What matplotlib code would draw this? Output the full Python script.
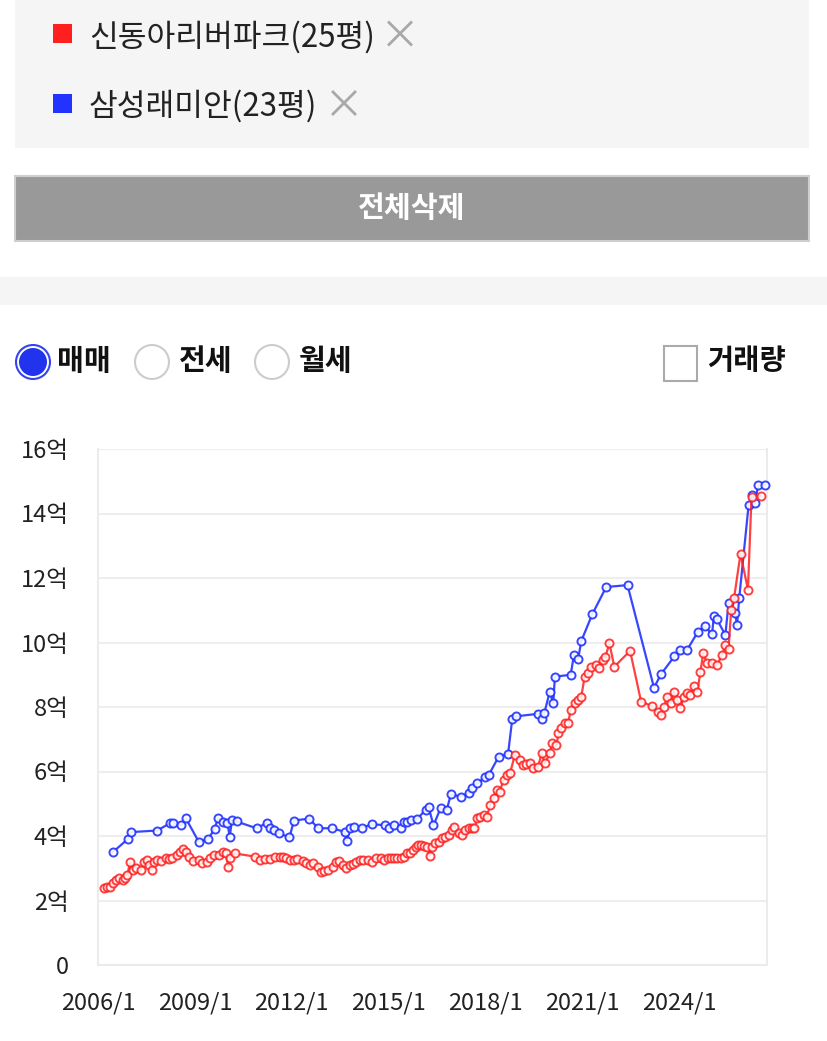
import matplotlib
matplotlib.use('Agg')
import matplotlib.pyplot as plt
from matplotlib.patches import Rectangle, Circle

plt.rcParams['font.family'] = ['Noto Sans CJK KR', 'DejaVu Sans']

# ---------------- data ----------------
series_names = ['신동아리버파크(25평)', '삼성래미안(23평)']
series_colors = ['#ff1f1f', '#2233ff']
radio_labels = ['매매', '전세', '월세']
check_label = '거래량'
button_label = '전체삭제'

y_ticks = [0, 2, 4, 6, 8, 10, 12, 14, 16]
y_tick_labels = ['0'] + [f'{v}억' for v in y_ticks[1:]]
x_tick_years = [2006, 2009, 2012, 2015, 2018, 2021, 2024]
x_tick_labels = [f'{y}/1' for y in x_tick_years]

# 신동아리버파크(25평) - price in 억
red_year = [2006.20, 2006.29, 2006.37, 2006.45, 2006.56, 2006.66, 2006.76, 2006.84, 2006.91, 2006.99,
            2007.07, 2007.17, 2007.33, 2007.43, 2007.53, 2007.58, 2007.68, 2007.74, 2007.84, 2007.94,
            2008.10, 2008.20, 2008.30, 2008.45, 2008.54, 2008.63, 2008.74, 2008.81, 2008.94, 2009.12,
            2009.23, 2009.38, 2009.46, 2009.58, 2009.74, 2009.87, 2009.95, 2010.04, 2010.10, 2010.23,
            2010.87, 2011.02, 2011.17, 2011.33, 2011.48, 2011.63, 2011.74, 2011.83, 2011.94, 2012.06,
            2012.17, 2012.35, 2012.44, 2012.56, 2012.66, 2012.81, 2012.90, 2013.00, 2013.12, 2013.27,
            2013.37, 2013.47, 2013.58, 2013.68, 2013.79, 2013.89, 2013.98, 2014.10, 2014.20, 2014.35,
            2014.50, 2014.61, 2014.76, 2014.86, 2014.97, 2015.07, 2015.17, 2015.27, 2015.38, 2015.47,
            2015.58, 2015.67, 2015.75, 2015.84, 2015.92, 2016.01, 2016.10, 2016.20, 2016.27, 2016.35,
            2016.45, 2016.56, 2016.66, 2016.76, 2016.86, 2016.97, 2017.03, 2017.17, 2017.27, 2017.38,
            2017.48, 2017.58, 2017.66, 2017.74, 2017.83, 2017.94, 2018.04, 2018.15, 2018.25, 2018.35,
            2018.44, 2018.56, 2018.66, 2018.76, 2018.91, 2019.06, 2019.17, 2019.27, 2019.38, 2019.48,
            2019.63, 2019.74, 2019.84, 2019.99, 2020.07, 2020.20, 2020.26, 2020.35, 2020.45, 2020.56,
            2020.64, 2020.76, 2020.86, 2020.97, 2021.07, 2021.17, 2021.27, 2021.43, 2021.53, 2021.63,
            2021.71, 2021.84, 2021.99, 2022.48, 2022.82, 2023.17, 2023.33, 2023.43, 2023.53, 2023.63,
            2023.74, 2023.84, 2023.94, 2024.04, 2024.15, 2024.24, 2024.35, 2024.45, 2024.56, 2024.66,
            2024.74, 2024.86, 2025.02, 2025.17, 2025.33, 2025.43, 2025.53, 2025.61, 2025.70, 2025.90,
            2026.13, 2026.24, 2026.54]
red_price = [2.38, 2.42, 2.43, 2.53, 2.64, 2.69, 2.64, 2.71, 2.79, 3.18,
             2.95, 3.00, 2.95, 3.19, 3.26, 3.10, 2.95, 3.19, 3.26, 3.22,
             3.31, 3.29, 3.31, 3.41, 3.50, 3.60, 3.51, 3.36, 3.22, 3.26,
             3.16, 3.20, 3.31, 3.41, 3.41, 3.51, 3.46, 3.05, 3.31, 3.46,
             3.36, 3.26, 3.29, 3.30, 3.35, 3.36, 3.36, 3.31, 3.26, 3.26,
             3.29, 3.21, 3.15, 3.10, 3.15, 3.05, 2.89, 2.93, 2.95, 3.05,
             3.19, 3.24, 3.10, 3.00, 3.10, 3.13, 3.20, 3.26, 3.26, 3.26,
             3.20, 3.31, 3.31, 3.26, 3.31, 3.31, 3.31, 3.32, 3.31, 3.36,
             3.46, 3.46, 3.57, 3.67, 3.72, 3.72, 3.69, 3.67, 3.38, 3.67,
             3.77, 3.82, 3.93, 3.98, 4.03, 4.19, 4.29, 4.08, 4.03, 4.19,
             4.24, 4.24, 4.24, 4.55, 4.59, 4.65, 4.60, 4.96, 5.17, 5.43,
             5.37, 5.74, 5.89, 5.94, 6.51, 6.36, 6.20, 6.23, 6.25, 6.10,
             6.15, 6.56, 6.25, 6.56, 6.89, 6.82, 7.18, 7.35, 7.49, 7.49,
             7.91, 8.11, 8.22, 8.32, 8.94, 9.05, 9.25, 9.30, 9.20, 9.46,
             9.54, 9.98, 9.25, 9.74, 8.17, 8.02, 7.85, 7.75, 8.01, 8.32,
             8.12, 8.47, 8.22, 7.96, 8.32, 8.43, 8.37, 8.65, 8.47, 9.09,
             9.66, 9.37, 9.35, 9.30, 9.61, 9.92, 9.80, 11.01, 11.38, 12.75,
             11.64, 14.51, 14.54]

# 삼성래미안(23평) - price in 억
blue_year = [2006.46, 2006.94, 2007.01, 2007.83, 2008.24, 2008.32, 2008.58, 2008.72, 2009.12, 2009.41,
             2009.61, 2009.72, 2009.86, 2010.01, 2010.08, 2010.15, 2010.29, 2010.91, 2011.22, 2011.33,
             2011.46, 2011.61, 2011.93, 2012.07, 2012.54, 2012.82, 2013.24, 2013.64, 2013.70, 2013.81,
             2013.94, 2014.17, 2014.48, 2014.88, 2015.01, 2015.17, 2015.39, 2015.47, 2015.58, 2015.70,
             2015.88, 2016.15, 2016.24, 2016.39, 2016.61, 2016.80, 2016.93, 2017.24, 2017.48, 2017.57,
             2017.75, 2017.99, 2018.10, 2018.41, 2018.70, 2018.83, 2018.94, 2019.64, 2019.74, 2019.82,
             2019.99, 2020.10, 2020.15, 2020.64, 2020.74, 2020.87, 2020.97, 2021.31, 2021.74, 2022.40,
             2023.22, 2023.44, 2023.85, 2024.04, 2024.25, 2024.58, 2024.80, 2025.02, 2025.07, 2025.17,
             2025.43, 2025.53, 2025.74, 2025.79, 2025.86, 2026.15, 2026.25, 2026.34, 2026.45, 2026.66]
blue_price = [3.50, 3.92, 4.12, 4.17, 4.40, 4.39, 4.34, 4.55, 3.82, 3.90,
              4.22, 4.56, 4.44, 4.39, 3.98, 4.50, 4.45, 4.24, 4.40, 4.24,
              4.19, 4.08, 3.96, 4.48, 4.54, 4.24, 4.24, 4.13, 3.85, 4.24,
              4.29, 4.26, 4.36, 4.34, 4.24, 4.34, 4.26, 4.42, 4.44, 4.50,
              4.52, 4.82, 4.90, 4.33, 4.86, 4.81, 5.29, 5.22, 5.33, 5.48,
              5.63, 5.83, 5.89, 6.46, 6.54, 7.63, 7.71, 7.79, 7.63, 7.80,
              8.47, 8.11, 8.94, 9.00, 9.61, 9.49, 10.05, 10.88, 11.72, 11.78,
              8.60, 9.02, 9.57, 9.78, 9.78, 10.33, 10.50, 10.25, 10.81, 10.72,
              10.23, 11.23, 10.91, 10.53, 11.38, 14.26, 14.56, 14.32, 14.88, 14.88]

# ---------------- figure ----------------
W, H = 827, 1041
fig = plt.figure(figsize=(W / 100, H / 100), dpi=100)
fig.patch.set_facecolor('white')

# UI overlay in pixel coordinates
ui = fig.add_axes([0, 0, 1, 1], zorder=0)
ui.set_xlim(0, W)
ui.set_ylim(H, 0)
ui.axis('off')

panel_gray = '#f5f5f5'
ui.add_patch(Rectangle((15, -2), 794, 150, facecolor=panel_gray, edgecolor='none'))
ui.add_patch(Rectangle((0, 277), W, 28, facecolor=panel_gray, edgecolor='none'))

# legend entries
leg_y = [33.5, 103]
for i, (name, col) in enumerate(zip(series_names, series_colors)):
    yc = leg_y[i]
    ui.add_patch(Rectangle((53, yc - 9.5), 19, 19, facecolor=col, edgecolor='none'))
    ui.text(89, yc, name, fontsize=22.5, color='#222222', va='center_baseline', ha='left')
x_cx = [400, 344]
for i in range(2):
    yc = leg_y[i]
    cx = x_cx[i]
    ui.plot([cx - 11, cx + 11], [yc - 11, yc + 11], color='#a8a8a8', lw=2)
    ui.plot([cx - 11, cx + 11], [yc + 11, yc - 11], color='#a8a8a8', lw=2)

# button
ui.add_patch(Rectangle((15, 176), 794, 65, facecolor='#999999', edgecolor='#cfcfcf', lw=1.5))
ui.text(412, 208, button_label, fontsize=21, fontweight='bold', color='white',
        ha='center', va='center')

# radio buttons
radio_cx = [33, 152, 272]
radio_tx = [57, 179, 299]
for i, lab in enumerate(radio_labels):
    if i == 0:
        ui.add_patch(Circle((radio_cx[i], 362), 17, facecolor='white', edgecolor='#3344ee', lw=1.5))
        ui.add_patch(Circle((radio_cx[i], 362), 14, facecolor='#2233ee', edgecolor='none'))
    else:
        ui.add_patch(Circle((radio_cx[i], 362), 17, facecolor='white', edgecolor='#cccccc', lw=1.5))
    ui.text(radio_tx[i], 361, lab, fontsize=21, fontweight='bold', color='#111111',
            ha='left', va='center')

ui.add_patch(Rectangle((664, 346), 33, 35, facecolor='white', edgecolor='#aaaaaa', lw=1.5))
ui.text(707, 361, check_label, fontsize=20.5, fontweight='bold', color='#111111',
        ha='left', va='center')

# ---------------- chart ----------------
ax_l, ax_r, ax_t, ax_b = 98, 767, 449, 965
ax = fig.add_axes([ax_l / W, (H - ax_b) / H, (ax_r - ax_l) / W, (ax_b - ax_t) / H], zorder=1)
ax.set_facecolor('none')
x0 = 2006 + (ax_l - 93.6) / 32.5
x1 = 2006 + (ax_r - 93.6) / 32.5
ax.set_xlim(x0, x1)
ax.set_ylim(0, 16)

ax.set_yticks(y_ticks)
ax.set_yticklabels(y_tick_labels)
ax.set_xticks(x_tick_years)
ax.set_xticklabels(x_tick_labels)
ax.tick_params(axis='both', length=0, labelsize=17, labelcolor='#222222')
ax.tick_params(axis='y', pad=21)
ax.tick_params(axis='x', pad=19)
ax.yaxis.grid(True, color='#eeeeee', lw=1.5)
ax.set_axisbelow(True)
for s in ['left', 'right', 'bottom']:
    ax.spines[s].set_color('#ebebeb')
    ax.spines[s].set_linewidth(1.5)
ax.spines['top'].set_visible(False)

ax.plot(blue_year, blue_price, color=series_colors[1], lw=1.6, marker='o', ms=5.8,
        mfc='white', mec=series_colors[1], mew=1.4, alpha=0.9, clip_on=False, zorder=3)
ax.plot(red_year, red_price, color=series_colors[0], lw=1.6, marker='o', ms=5.8,
        mfc='white', mec=series_colors[0], mew=1.4, alpha=0.85, clip_on=False, zorder=4)

fig.savefig('out.png', dpi=100)
